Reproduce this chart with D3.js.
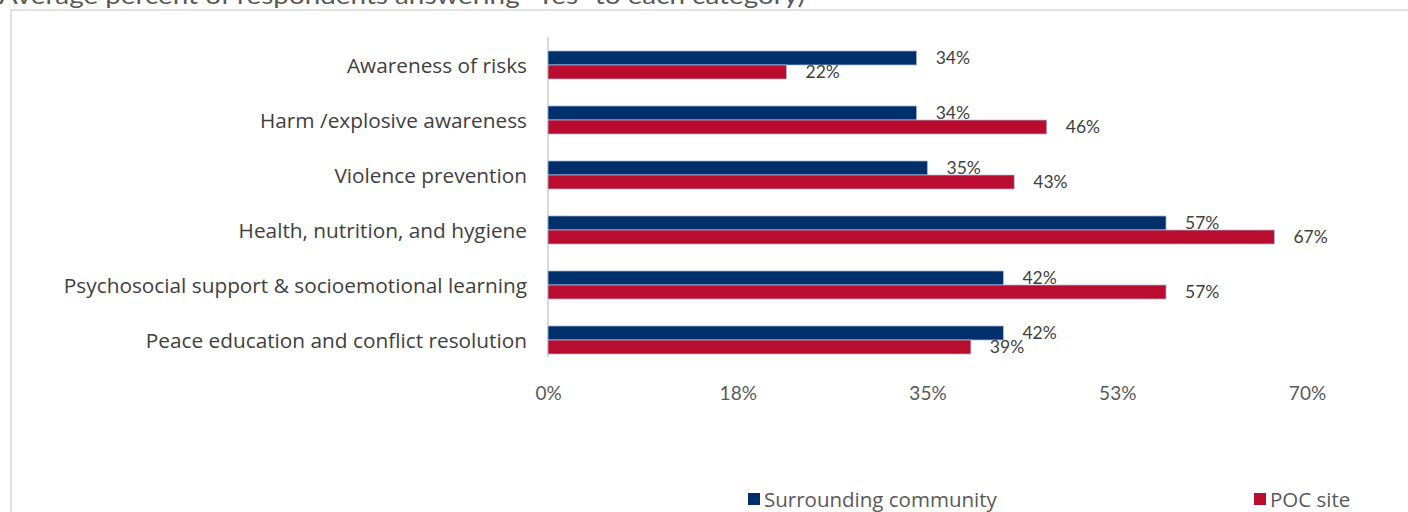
<!DOCTYPE html>
<html>
<head>
<meta charset="utf-8">
<script src="https://cdn.jsdelivr.net/npm/d3@7"></script>
<style>
  body { margin: 0; background: #fff; overflow: hidden; }
</style>
</head>
<body>
<div class="chart"></div>
<script>
const categories = [
  'Awareness of risks',
  'Harm /explosive awareness',
  'Violence prevention ',
  'Health, nutrition, and hygiene',
  'Psychosocial support & socioemotional learning',
  'Peace education and conflict resolution'
]
const community = [0.34, 0.34, 0.35, 0.57, 0.42, 0.42]
const poc = [0.22, 0.46, 0.43, 0.67, 0.57, 0.39]
const seriesNames = ['Surrounding community', 'POC site']
const tickValues = [0, 0.175, 0.35, 0.525, 0.7]

const width = 1408
const height = 512
const blue = '#00306b'
const red = '#ba0c2f'

let svg = d3.select('.chart')
.append('svg')
.attr('width', width)
.attr('height', height)
.attr('font-family', 'Lato, sans-serif')

// title, mostly cut off by the top edge
svg.append('text')
.attr('x', -1)
.attr('y', 4)
.attr('font-size', 24)
.attr('fill', '#595959')
.attr('textLength', 806)
.attr('lengthAdjust', 'spacingAndGlyphs')
.text('Average percent of respondents answering \u201CYes\u201D to each category)')

// chart frame
svg.append('rect')
.attr('x', 11)
.attr('y', 10)
.attr('width', 1500)
.attr('height', 600)
.attr('fill', 'none')
.attr('stroke', '#d9d9d9')
.attr('stroke-width', 1.5)

let x = d3.scaleLinear()
.domain([0, 0.7])
.range([548, 1307])

let y = d3.scaleBand()
.domain(categories)
.range([37.5, 367.5])
.paddingInner(0.49)
.paddingOuter(0.245)

let bh = y.bandwidth() / 2

// axis line
svg.append('line')
.attr('x1', x(0)).attr('x2', x(0))
.attr('y1', 37).attr('y2', 357)
.attr('stroke', '#d9d9d9')
.attr('stroke-width', 2)

// category labels
svg.selectAll('.cat')
.data(categories)
.enter()
.append('text')
.attr('class', 'cat')
.attr('x', 527)
.attr('y', d => y(d) + bh + 1)
.attr('dy', '0.35em')
.attr('text-anchor', 'end')
.attr('font-family', '"Open Sans", sans-serif')
.attr('font-size', 20.8)
.attr('fill', '#404040')
.text(d => d)

const series = [
  { name: seriesNames[0], values: community, color: blue, off: 0 },
  { name: seriesNames[1], values: poc, color: red, off: 1 }
]

series.forEach(s => {
  let g = svg.append('g')

  g.selectAll('rect')
  .data(s.values)
  .enter()
  .append('rect')
  .attr('x', x(0))
  .attr('y', (d, i) => y(categories[i]) + s.off * bh)
  .attr('width', d => x(d) - x(0))
  .attr('height', bh)
  .attr('fill', s.color)
  .attr('stroke', '#aebfdc')
  .attr('stroke-width', 0.75)

  g.selectAll('text')
  .data(s.values)
  .enter()
  .append('text')
  .attr('x', d => x(d) + 19)
  .attr('y', (d, i) => y(categories[i]) + s.off * bh + bh / 2)
  .attr('dy', '0.35em')
  .attr('font-size', 17.5)
  .attr('fill', '#404040')
  .text(d => Math.round(d * 100) + '%')
})

// x axis
let xAxis = svg.append('g')
.attr('transform', 'translate(0,386)')
.call(d3.axisBottom(x).tickValues(tickValues).tickSize(0).tickPadding(0)
  .tickFormat(d => Math.round(d * 100) + '%'))

xAxis.select('.domain').remove()
xAxis.selectAll('text')
.attr('font-size', 19)
.attr('fill', '#595959')
.attr('font-family', 'Lato, sans-serif')

// legend
let legend = svg.selectAll('.legend')
.data(series)
.enter()
.append('g')
.attr('class', 'legend')
.attr('transform', (d, i) => 'translate(' + [748, 1254][i] + ',0)')

legend.append('rect')
.attr('x', 0)
.attr('y', 493)
.attr('width', 12)
.attr('height', 12)
.attr('fill', d => d.color)

legend.append('text')
.attr('x', 16)
.attr('y', 507)
.attr('font-family', '"Open Sans", sans-serif')
.attr('font-size', 20.5)
.attr('fill', '#595959')
.text(d => d.name)
</script>
</body>
</html>
